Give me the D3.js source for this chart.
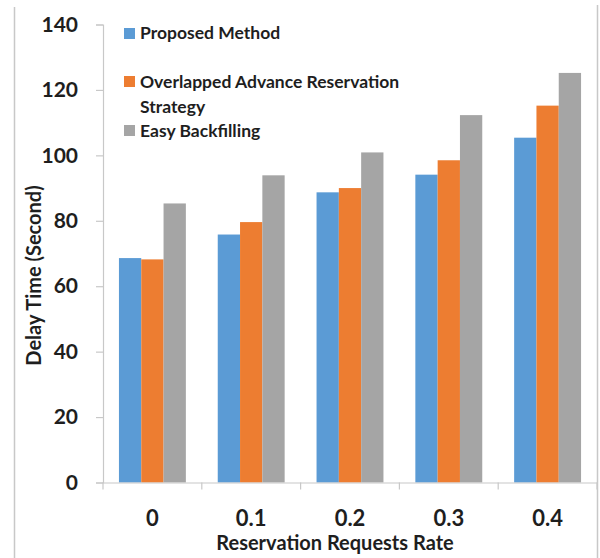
<!DOCTYPE html>
<html>
<head>
<meta charset="utf-8">
<script src="https://cdn.jsdelivr.net/npm/d3@7"></script>
<style>
  html, body { margin: 0; padding: 0; background: #fff; }
  svg { display: block; }
  text { font-family: Lato, "Open Sans", sans-serif; font-weight: bold; fill: #1e1e1e; }
</style>
</head>
<body>
<svg id="chart" width="600" height="558"></svg>
<script>
const categories = ["0", "0.1", "0.2", "0.3", "0.4"];
const seriesNames = ["Proposed Method", "Overlapped Advance Reservation Strategy", "Easy Backfilling"];
const proposed = [68.6, 75.8, 88.7, 94.1, 105.4];
const overlapped = [68.2, 79.6, 90.0, 98.5, 115.2];
const easy = [85.3, 93.9, 100.9, 112.3, 125.2];
const yTicks = [0, 20, 40, 60, 80, 100, 120, 140];
const colors = ["#5b9bd5", "#ed7d31", "#a5a5a5"];
const xTitle = "Reservation Requests Rate";
const yTitle = "Delay Time (Second)";

(function () {
const seriesValues = [proposed, overlapped, easy];
const svg = d3.select("#chart");
const mLeft = 103, mRight = 597, mTop = 24.5, mBottom = 482.5;

// chart frame
svg.append("line").attr("x1", 14.5).attr("x2", 14.5).attr("y1", 7).attr("y2", 558)
  .attr("stroke", "#c8c8c8").attr("stroke-width", 1.5);
svg.append("line").attr("x1", 597.5).attr("x2", 597.5).attr("y1", 5).attr("y2", 558)
  .attr("stroke", "#c8c8c8").attr("stroke-width", 1.5);

const x = d3.scaleBand().domain(categories).range([mLeft, mRight]).paddingInner(0).paddingOuter(0);
const xs = d3.scaleBand().domain(d3.range(seriesNames.length)).range([0, x.bandwidth()]).paddingInner(0).paddingOuter(0.715);
const y = d3.scaleLinear().domain([0, 140]).range([mBottom, mTop]);

// bars
categories.forEach((c, i) => {
  seriesValues.forEach((vals, s) => {
    svg.append("rect")
      .attr("x", x(c) + xs(s))
      .attr("y", y(vals[i]))
      .attr("width", xs.bandwidth())
      .attr("height", y(0) - y(vals[i]))
      .attr("fill", colors[s]);
  });
});

// y axis
const yAxis = svg.append("g").attr("transform", `translate(${mLeft},0)`)
  .call(d3.axisLeft(y).tickValues(yTicks).tickSize(7).tickPadding(18).tickFormat(d3.format("d")));
yAxis.select(".domain").attr("stroke", "#c8c8c8").attr("stroke-width", 1.2);
yAxis.selectAll(".tick line").attr("stroke", "#c8c8c8").attr("stroke-width", 1.2);
yAxis.selectAll(".tick text").style("font-size", "21px").attr("fill", "#1e1e1e")
  .style("font-family", "Lato, sans-serif").style("font-weight", "bold");

// x axis
const xAxis = svg.append("g").attr("transform", `translate(0,${mBottom})`)
  .call(d3.axisBottom(x).tickSize(0).tickPadding(28));
xAxis.select(".domain").attr("stroke", "#c8c8c8").attr("stroke-width", 1.2);
xAxis.selectAll(".tick text").style("font-size", "22px").attr("fill", "#1e1e1e")
  .style("font-family", "Lato, sans-serif").style("font-weight", "bold");
// boundary ticks
const bounds = categories.map(c => x(c)).concat([x(categories[categories.length - 1]) + x.bandwidth()]);
svg.selectAll(".bt").data(bounds).enter().append("line")
  .attr("x1", d => d).attr("x2", d => d).attr("y1", mBottom).attr("y2", mBottom + 7)
  .attr("stroke", "#c8c8c8").attr("stroke-width", 1.2);

// axis titles
svg.append("text").attr("x", 335).attr("y", 550).attr("text-anchor", "middle")
  .style("font-size", "20px").text(xTitle);
svg.append("text").attr("transform", "translate(41,275.5) rotate(-90)").attr("text-anchor", "middle")
  .style("font-size", "20px").text(yTitle);

// legend
const legendRows = [
  { sq: 28, lines: [["Proposed Method", 39]] },
  { sq: 76, lines: [["Overlapped Advance Reservation", 88], ["Strategy", 113]] },
  { sq: 125, lines: [["Easy Backfilling", 137]] }
];
legendRows.forEach((r, i) => {
  svg.append("rect").attr("x", 124).attr("y", r.sq).attr("width", 11).attr("height", 11).attr("fill", colors[i]);
  r.lines.forEach(l => {
    svg.append("text").attr("x", 140).attr("y", l[1]).style("font-size", "17.5px").text(l[0]);
  });
});
})();
</script>
</body>
</html>
